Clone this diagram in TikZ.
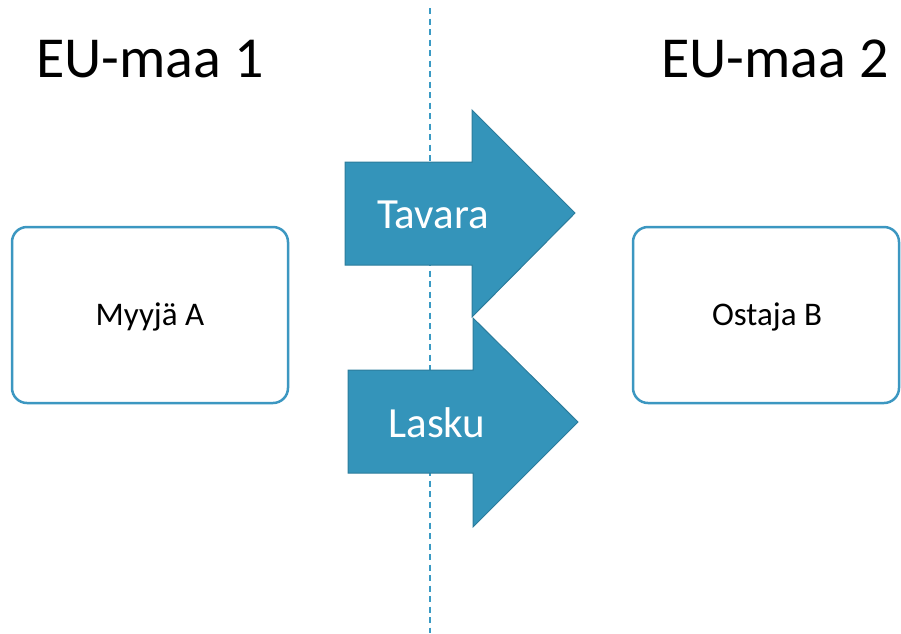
\documentclass[tikz,border=0pt]{standalone}
\usepackage{fontspec}
\setmainfont{Carlito}
\definecolor{arrowfill}{HTML}{3494BA}
\definecolor{arrowedge}{HTML}{2B7C9C}
\definecolor{boxedge}{HTML}{3C97C1}
\definecolor{dashcol}{HTML}{3A9AC4}
\tikzset{
  titletext/.style={anchor=base,inner sep=0pt,font=\fontsize{58}{61}\selectfont},
  boxnode/.style={draw=boxedge,line width=2.5pt,rounded corners=15pt,fill=white},
  boxtext/.style={anchor=base,inner sep=0pt,font=\fontsize{33}{36}\selectfont},
  bigarrow/.style={fill=arrowfill,draw=arrowedge,line width=1pt,line join=miter},
  arrowtext/.style={anchor=base,inner sep=0pt,text=white,font=\fontsize{43}{46}\selectfont},
  divider/.style={draw=dashcol,line width=1.5pt,dash pattern=on 6pt off 4.5pt}
}
\begin{document}
\begin{tikzpicture}[x=1pt,y=-1pt]
\useasboundingbox (0,0) rectangle (901,633);
% divider
\coordinate (dtop) at (430,8);
\coordinate (dbot) at (430,633);
\draw[divider] (dtop) -- (dbot);
% titles
\node[titletext] (eu1) at (150,77) {EU-maa 1};
\node[titletext] (eu2) at (775,77) {EU-maa 2};
% boxes
\draw[boxnode] (12,227) rectangle (288,403);
\node[boxtext] (myyja) at (150,325) {Myyjä A};
\draw[boxnode] (633,227) rectangle (899,403);
\node[boxtext] (ostaja) at (767,325) {Ostaja B};
% arrows
\draw[bigarrow] (345,162) -- (472,162) -- (472,110) -- (575,213) -- (472,317) -- (472,265) -- (345,265) -- cycle;
\node[arrowtext] (tavara) at (433,228) {Tavara};
\draw[bigarrow] (348,370) -- (473,370) -- (473,318) -- (578,422) -- (473,527) -- (473,473) -- (348,473) -- cycle;
\node[arrowtext] (lasku) at (437,437) {Lasku};
\end{tikzpicture}
\end{document}
